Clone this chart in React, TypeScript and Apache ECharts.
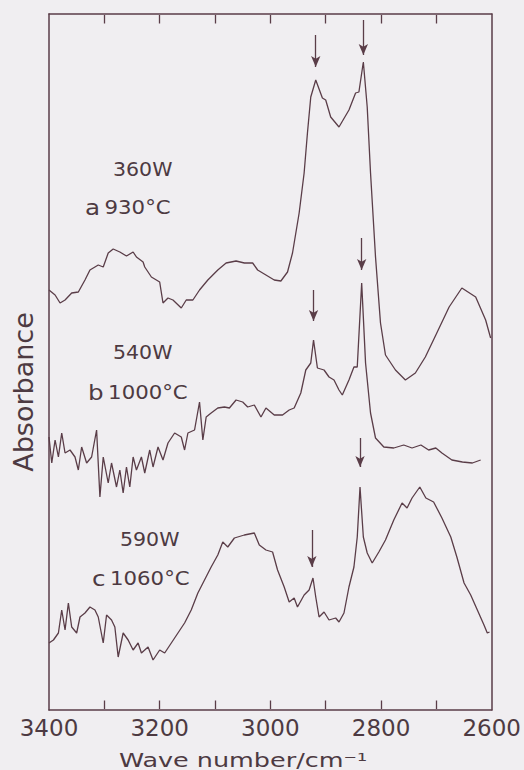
import React, { useEffect, useRef } from "react";
import * as echarts from "echarts";

// wavenumber (cm^-1), absorbance (arbitrary units, offset traces)
const spectrumA: number[][] = [
  [3400, 42.0], [3389, 41.5], [3380, 40.7], [3371, 41.0], [3359, 41.7], [3347, 41.8],
  [3335, 43.0], [3326, 44.0], [3311, 44.5], [3302, 44.3], [3293, 45.7], [3284, 46.1],
  [3272, 45.8], [3260, 45.4], [3248, 45.8], [3242, 45.3], [3230, 44.8], [3227, 44.3],
  [3215, 43.3], [3200, 42.8], [3194, 40.7], [3185, 41.2], [3176, 41.0], [3161, 40.2],
  [3152, 41.0], [3140, 41.0], [3128, 42.0], [3113, 43.0], [3095, 44.0], [3080, 44.7],
  [3062, 44.9], [3047, 44.7], [3032, 44.7], [3023, 44.0], [3008, 43.5], [2993, 43.0],
  [2981, 42.9], [2969, 43.8], [2960, 45.7], [2948, 49.7], [2939, 53.7], [2933, 57.7],
  [2927, 61.3], [2918, 63.0], [2906, 61.2], [2900, 61.0], [2891, 59.3], [2876, 58.3],
  [2858, 60.0], [2846, 61.7], [2840, 61.8], [2832, 64.8], [2825, 60.3], [2819, 53.7],
  [2810, 45.3], [2801, 38.7], [2792, 35.5], [2774, 34.0], [2756, 33.0], [2738, 33.7],
  [2720, 35.3], [2701, 37.5], [2677, 40.3], [2654, 42.2], [2629, 41.3], [2611, 39.0],
  [2602, 37.2],
];

const spectrumB: number[][] = [
  [3400, 27.3], [3395, 24.7], [3389, 27.0], [3383, 25.3], [3377, 27.7], [3371, 25.7],
  [3362, 26.0], [3353, 25.3], [3347, 24.0], [3341, 26.3], [3332, 24.7], [3323, 25.3],
  [3314, 28.0], [3308, 21.3], [3302, 25.3], [3293, 22.7], [3287, 24.7], [3278, 22.3],
  [3272, 24.0], [3266, 21.7], [3260, 24.3], [3254, 22.3], [3248, 25.3], [3242, 24.0],
  [3233, 25.3], [3227, 23.7], [3218, 26.0], [3212, 24.3], [3203, 26.3], [3194, 25.0],
  [3185, 26.7], [3173, 27.7], [3161, 27.3], [3155, 26.0], [3149, 27.7], [3137, 28.0],
  [3128, 30.8], [3122, 27.0], [3116, 29.3], [3107, 29.7], [3095, 30.2], [3083, 30.3],
  [3074, 30.2], [3062, 31.0], [3050, 30.8], [3041, 30.3], [3029, 30.5], [3017, 29.3],
  [3008, 30.2], [2993, 29.5], [2978, 29.5], [2966, 30.0], [2957, 30.2], [2945, 31.7],
  [2936, 34.0], [2927, 34.7], [2922, 37.0], [2915, 34.2], [2903, 34.0], [2894, 33.3],
  [2885, 33.0], [2876, 32.0], [2870, 31.5], [2858, 33.0], [2849, 34.3], [2843, 34.3],
  [2835, 42.7], [2828, 34.7], [2819, 29.7], [2810, 27.2], [2795, 26.3], [2777, 26.2],
  [2759, 26.5], [2744, 26.2], [2728, 26.5], [2714, 26.0], [2701, 26.2], [2690, 25.7],
  [2672, 25.0], [2653, 24.8], [2635, 24.7], [2620, 25.0],
];

const spectrumC: number[][] = [
  [3400, 6.7], [3392, 7.0], [3383, 7.7], [3377, 10.0], [3371, 8.0], [3365, 10.7],
  [3359, 8.3], [3350, 7.7], [3344, 9.3], [3335, 9.7], [3326, 10.3], [3317, 10.0],
  [3311, 9.3], [3302, 6.7], [3296, 9.5], [3287, 9.0], [3281, 8.3], [3275, 5.3],
  [3266, 7.7], [3257, 7.0], [3248, 6.0], [3239, 6.7], [3233, 5.7], [3221, 6.3],
  [3212, 5.0], [3200, 6.0], [3191, 5.7], [3179, 6.7], [3167, 7.7], [3155, 8.7],
  [3143, 10.0], [3131, 11.7], [3119, 13.0], [3107, 14.3], [3095, 15.5], [3086, 16.8],
  [3077, 16.3], [3065, 17.2], [3047, 17.5], [3029, 17.7], [3020, 16.5], [3008, 16.0],
  [2996, 15.8], [2987, 14.0], [2975, 12.3], [2966, 10.8], [2957, 11.2], [2951, 10.3],
  [2939, 11.5], [2930, 12.0], [2923, 13.2], [2918, 11.3], [2912, 9.3], [2903, 9.8],
  [2894, 9.0], [2882, 9.2], [2876, 8.8], [2867, 9.7], [2858, 12.3], [2849, 14.3],
  [2843, 17.3], [2838, 22.3], [2832, 17.3], [2825, 15.7], [2816, 14.7], [2804, 15.8],
  [2792, 17.0], [2777, 19.0], [2762, 20.7], [2753, 20.2], [2744, 21.2], [2730, 22.3],
  [2719, 21.2], [2705, 20.8], [2690, 19.2], [2674, 17.3], [2663, 15.3], [2650, 12.7],
  [2638, 11.5], [2626, 10.0], [2614, 8.5], [2608, 7.7], [2604, 7.8],
];

// arrows: [wavenumber, yStart, yEnd]
const arrowsA: number[][] = [[2918, 67.5, 64.3], [2832, 69.0, 65.5]];
const arrowsB: number[][] = [[2922, 42.0, 38.9], [2835, 47.2, 44.0]];
const arrowsC: number[][] = [[2925, 18.0, 14.3], [2838, 27.2, 24.3]];

const xTickLabels = [3400, 3200, 3000, 2800, 2600];
const xTickValues = [3300, 3200, 3100, 3000, 2900, 2800, 2700];

const labelsPower = ["360W", "540W", "590W"];
const labelsLetter = ["a", "b", "c"];
const labelsTemp = ["930°C", "1000°C", "1060°C"];

const Y_MAX = 69.6;
const TICK_LEN = 0.95;
const INK = "#5a3d48";
const TEXT = "#4d3a42";
const FONT = "DejaVu Sans";

function arrowMarks(arr: number[][]) {
  return arr.map(([x, y0, y1]) => [{ coord: [x, y0] }, { coord: [x, y1] }]);
}

function tickMarks(vals: number[]) {
  const out: any[] = [];
  vals.forEach((v) => {
    out.push([
      { coord: [v, 0.1], symbol: "none" },
      { coord: [v, TICK_LEN], symbol: "none" },
    ]);
    out.push([
      { coord: [v, Y_MAX - 0.1], symbol: "none" },
      { coord: [v, Y_MAX - TICK_LEN], symbol: "none" },
    ]);
  });
  return out;
}

export default function App() {
  const ref = useRef<HTMLDivElement>(null);
  useEffect(() => {
    if (!ref.current) return;
    const chart = echarts.init(ref.current, undefined, { renderer: "svg" });
    const mk = (data: number[][], marks: any[]) => ({
      type: "line",
      data,
      showSymbol: false,
      symbol: "none",
      lineStyle: { color: INK, width: 1.3 },
      silent: true,
      markLine: {
        silent: true,
        symbol: ["none", "arrow"],
        symbolSize: [7, 11],
        label: { show: false },
        lineStyle: { color: INK, width: 1.3, type: "solid" },
        data: marks,
      },
    });
    const xBase = {
      type: "value",
      min: 2600,
      max: 3400,
      interval: 100,
      inverse: true,
      splitLine: { show: false },
      axisLine: { show: true, onZero: false, lineStyle: { color: INK, width: 1.5 } },
      axisTick: { show: false },
    };
    const labelPos = [
      [113, 170, 85, 207],
      [113, 353, 88, 392],
      [120, 540, 92, 578],
    ];
    const graphics: any[] = [];
    labelPos.forEach((p, i) => {
      graphics.push({
        type: "text",
        x: p[0],
        y: p[1],
        scaleX: 1.08,
        style: {
          text: labelsPower[i],
          font: `19px "${FONT}"`,
          fill: TEXT,
          verticalAlign: "middle",
        },
      });
      graphics.push({
        type: "text",
        x: p[2],
        y: p[3],
        scaleX: 1.12,
        style: {
          text: `{big|${labelsLetter[i]}}{n|${labelsTemp[i]}}`,
          verticalAlign: "middle",
          rich: {
            big: { font: `22px "${FONT}"`, fill: TEXT },
            n: { font: `19px "${FONT}"`, fill: TEXT, padding: [0, 0, 0, 4] },
          },
        },
      });
    });
    graphics.push({
      type: "text",
      x: 243,
      y: 760,
      scaleX: 1.34,
      style: {
        text: "Wave number/cm⁻¹",
        font: `19px "${FONT}"`,
        fill: TEXT,
        align: "center",
        verticalAlign: "middle",
      },
    });
    graphics.push({
      type: "text",
      x: 23,
      y: 392,
      rotation: Math.PI / 2,
      style: {
        text: "Absorbance",
        font: `27px "${FONT}"`,
        fill: TEXT,
        align: "center",
        verticalAlign: "middle",
      },
    });
    chart.setOption({
      animation: false,
      backgroundColor: "#f0eef1",
      grid: { left: 49, right: 31, top: 14, bottom: 60 },
      xAxis: [
        {
          ...xBase,
          position: "bottom",
          axisLabel: {
            color: TEXT,
            fontFamily: FONT,
            fontSize: 23,
            margin: 6,
            formatter: (v: number) => (xTickLabels.includes(v) ? String(v) : ""),
          },
        },
        { ...xBase, position: "top", axisLabel: { show: false } },
      ],
      yAxis: [
        {
          type: "value",
          min: 0,
          max: Y_MAX,
          position: "left",
          axisLine: { show: true, lineStyle: { color: INK, width: 1.5 } },
          axisTick: { show: false },
          axisLabel: { show: false },
          splitLine: { show: false },
        },
        {
          type: "value",
          min: 0,
          max: Y_MAX,
          position: "right",
          axisLine: { show: true, lineStyle: { color: INK, width: 1.5 } },
          axisTick: { show: false },
          axisLabel: { show: false },
          splitLine: { show: false },
        },
      ],
      series: [
        mk(spectrumA, arrowMarks(arrowsA)),
        mk(spectrumB, arrowMarks(arrowsB)),
        mk(spectrumC, [...arrowMarks(arrowsC), ...tickMarks(xTickValues)]),
      ],
      graphic: graphics,
    });
    return () => chart.dispose();
  }, []);
  return (
    <div
      ref={ref}
      style={{ position: "absolute", left: 0, top: 0, width: 524, height: 770 }}
    />
  );
}
